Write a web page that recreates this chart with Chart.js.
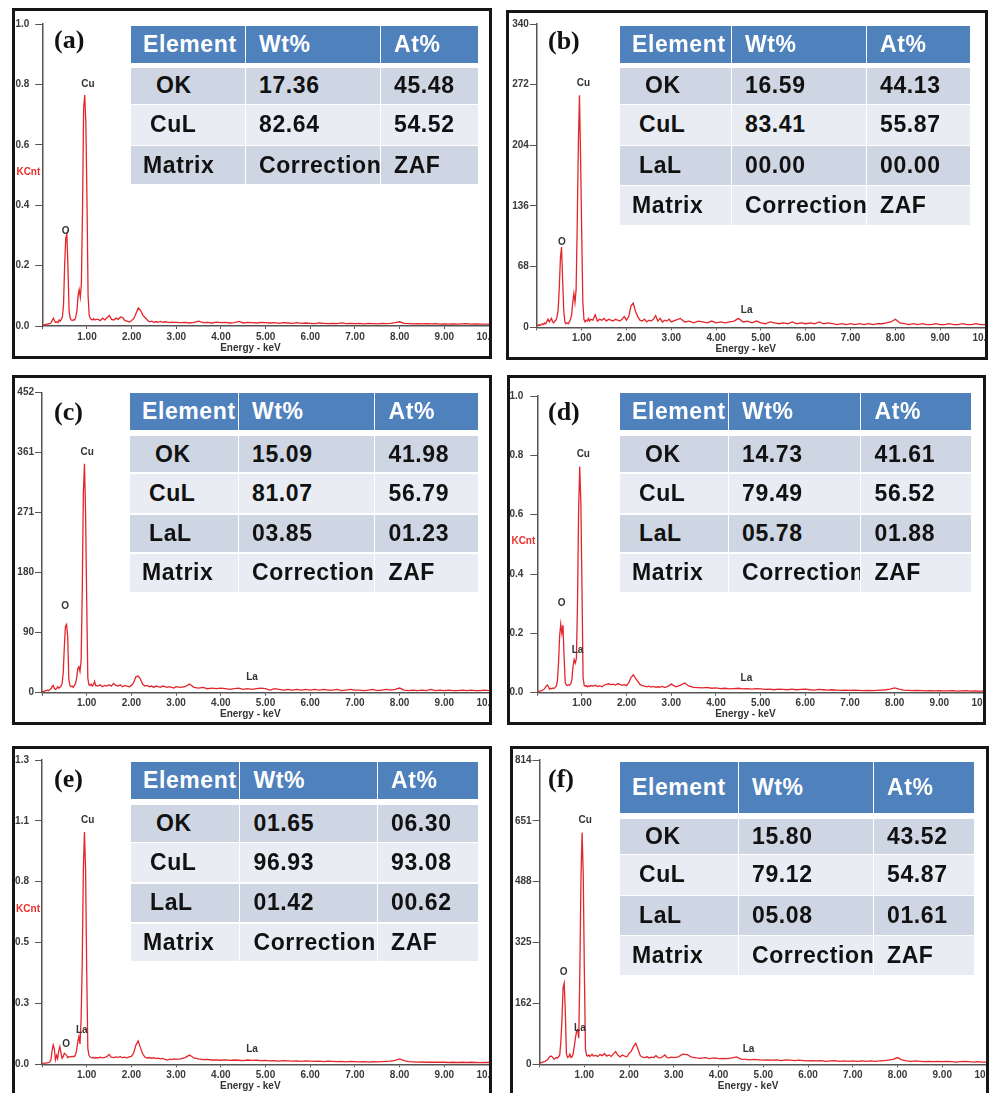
<!DOCTYPE html>
<html>
<head>
<meta charset="utf-8">
<script src="https://cdn.jsdelivr.net/npm/chart.js@4.4.0/dist/chart.umd.min.js"></script>
<style>
  body { margin: 0; width: 990px; height: 1093px; overflow: hidden; background: #fff; position: relative; }
  .frame { position: absolute; border: 3px solid #161616; box-sizing: border-box; z-index: 5; pointer-events: none; }
  canvas { position: absolute; }
  .cell { position: absolute; display: flex; align-items: center; box-sizing: border-box; font: bold 23px "Liberation Sans", Arial, sans-serif;
          letter-spacing: 0.6px; color: #111; white-space: nowrap; overflow: hidden; z-index: 3; }
  .hd { background: #4f81bd; color: #fff; }
  .dk { background: #cfd6e3; }
  .lt { background: #e9edf3; }
  .tag { position: absolute; font: bold 26px "Liberation Serif", "Times New Roman", serif; line-height: 30px; z-index: 3; color: #111; }
</style>
</head>
<body>
<script>
// EDS spectra, energy in keV

var energy = [
  0,0.025,0.05,0.075,0.1,0.125,0.15,0.175,0.2,0.225,0.25,0.275,0.3,0.325,0.35,0.375,0.4,0.425,0.45,0.475,
  0.5,0.525,0.55,0.575,0.6,0.625,0.65,0.675,0.7,0.725,0.75,0.775,0.8,0.825,0.85,0.875,0.9,0.925,0.95,0.975,
  1,1.025,1.05,1.075,1.1,1.125,1.15,1.175,1.2,
  1.25,1.3,1.35,1.4,1.45,1.5,1.55,1.6,1.65,1.7,1.75,1.8,1.85,1.9,1.95,2,2.05,2.1,2.15,2.2,2.25,2.3,2.35,2.4,2.45,2.5,2.55,2.6,2.65,2.7,2.75,2.8,2.85,2.9,2.95,3,
  3.1,3.2,3.3,3.4,3.5,3.6,3.7,3.8,3.9,4,4.1,4.2,4.3,4.4,4.5,4.6,4.7,4.8,4.9,5,
  5.1,5.2,5.3,5.4,5.5,5.6,5.7,5.8,5.9,6,6.1,6.2,6.3,6.4,6.5,6.6,6.7,6.8,6.9,7,
  7.1,7.2,7.3,7.4,7.5,7.6,7.7,7.8,7.9,8,8.1,8.2,8.3,8.4,8.5,8.6,8.7,8.8,8.9,9,
  9.1,9.2,9.3,9.4,9.5,9.6,9.7,9.8,9.9,10
];

var xTickLabels = ['', '1.00', '2.00', '3.00', '4.00', '5.00', '6.00', '7.00', '8.00', '9.00', '10.00'];
var tableHead = ['Element', 'Wt%', 'At%'];

// (a)
var specA = [
  0.003,0.004,0.004,0.005,0.006,0.006,0.008,0.008,0.012,0.02,0.026,0.016,0.012,0.014,0.011,0.02,0.016,0.022,0.03,0.07,
  0.2,0.29,0.305,0.19,0.05,0.025,0.02,0.018,0.021,0.02,0.03,0.05,0.1,0.12,0.095,0.14,0.38,0.72,0.765,0.67,
  0.42,0.1,0.035,0.025,0.022,0.02,0.024,0.02,0.022,
  0.022,0.018,0.026,0.02,0.028,0.035,0.022,0.02,0.026,0.022,0.03,0.028,0.018,0.016,0.013,0.018,0.025,0.042,0.06,0.052,
  0.036,0.028,0.02,0.014,0.016,0.012,0.014,0.013,0.015,0.012,0.014,0.013,0.011,0.013,0.012,0.012,
  0.011,0.012,0.01,0.012,0.016,0.011,0.012,0.01,0.013,0.011,0.012,0.01,0.011,0.015,0.01,0.012,0.011,0.01,0.012,0.011,
  0.01,0.011,0.009,0.011,0.01,0.009,0.011,0.009,0.01,0.009,0.008,0.01,0.009,0.008,0.009,0.008,0.01,0.008,0.009,0.008,
  0.009,0.007,0.009,0.008,0.007,0.009,0.008,0.009,0.011,0.014,0.009,0.008,0.007,0.008,0.007,0.008,0.007,0.008,0.006,0.007,
  0.006,0.007,0.006,0.007,0.008,0.006,0.007,0.006,0.006,0.006
];
var yTicksA = ['0.0', '0.2', '0.4', '0.6', '0.8', '1.0'];
var peakLabelsA = [['Cu', 1.02, 0.80], ['O', 0.52, 0.315]];
var tableA = [['OK', '17.36', '45.48'], ['CuL', '82.64', '54.52'], ['Matrix', 'Correction', 'ZAF']];

// (b)
var specB = [
  2,2,3,2,3,4,3,5,4,7,9,6,8,10,6,5,7,8,12,20,
  45,78,90,52,18,6,4,5,4,6,9,14,28,38,28,42,115,205,260,190,
  105,28,9,6,8,7,10,7,9,
  8,14,7,9,8,10,7,9,8,7,9,8,7,9,12,8,12,24,27,18,
  12,8,7,9,6,8,7,9,13,7,10,6,8,7,9,6,
  8,10,6,7,5,7,6,5,7,5,6,5,6,7,10,6,7,5,7,5,
  4,6,5,4,5,4,6,4,5,4,5,4,6,4,5,4,3,4,3,4,
  3,4,3,4,3,4,4,5,6,9,5,4,3,4,3,4,3,3,4,3,
  3,4,3,3,4,3,3,4,3,3
];
var yTicksB = ['0', '68', '136', '204', '272', '340'];
var peakLabelsB = [['Cu', 1.04, 274], ['O', 0.56, 95], ['La', 4.68, 18.6]];
var tableB = [['OK', '16.59', '44.13'], ['CuL', '83.41', '55.87'], ['LaL', '00.00', '00.00'], ['Matrix', 'Correction', 'ZAF']];

// (c)
var specC = [
  1,2,2,3,3,4,3,5,6,9,11,7,5,6,9,7,8,10,14,30,
  70,100,103,84,20,11,9,10,8,11,14,22,36,39,32,48,150,300,345,270,
  140,22,12,11,13,10,12,17,11,
  10,12,9,11,10,12,10,14,11,10,12,9,11,10,9,11,15,24,25,21,
  13,10,11,9,10,8,10,9,8,10,9,8,9,8,7,9,
  8,9,13,8,7,8,6,7,6,7,6,5,6,7,5,6,5,6,7,6,
  4,6,5,4,5,4,5,4,5,4,5,4,5,4,4,5,3,4,5,4,
  4,3,4,5,3,4,5,4,5,7,4,3,4,3,4,3,5,3,4,3,
  4,3,3,4,3,4,3,3,4,3
];
var yTicksC = ['0', '90', '180', '271', '361', '452'];
var peakLabelsC = [['Cu', 1.01, 363], ['O', 0.52, 130], ['La', 4.70, 23]];
var tableC = [['OK', '15.09', '41.98'], ['CuL', '81.07', '56.79'], ['LaL', '03.85', '01.23'], ['Matrix', 'Correction', 'ZAF']];

// (d)
var specD = [
  0.003,0.004,0.005,0.006,0.007,0.009,0.012,0.016,0.022,0.026,0.02,0.012,0.015,0.013,0.016,0.014,0.018,0.022,0.04,0.1,
  0.19,0.231,0.2,0.228,0.12,0.035,0.026,0.024,0.027,0.025,0.03,0.045,0.09,0.112,0.1,0.115,0.3,0.62,0.762,0.64,
  0.35,0.05,0.025,0.022,0.024,0.02,0.023,0.021,0.024,
  0.022,0.025,0.021,0.023,0.02,0.026,0.028,0.03,0.027,0.029,0.026,0.03,0.028,0.025,0.027,0.024,0.035,0.052,0.06,0.048,
  0.038,0.028,0.024,0.022,0.02,0.022,0.019,0.021,0.018,0.02,0.019,0.021,0.018,0.02,0.024,0.029,
  0.02,0.025,0.033,0.022,0.018,0.017,0.016,0.018,0.015,0.016,0.014,0.015,0.013,0.014,0.015,0.013,0.014,0.012,0.014,0.013,
  0.011,0.012,0.01,0.012,0.011,0.01,0.012,0.01,0.011,0.012,0.01,0.009,0.011,0.01,0.009,0.01,0.009,0.008,0.009,0.008,
  0.009,0.008,0.007,0.008,0.007,0.008,0.009,0.01,0.012,0.016,0.012,0.009,0.008,0.007,0.008,0.007,0.006,0.007,0.006,0.007,
  0.006,0.006,0.007,0.005,0.006,0.007,0.005,0.006,0.005,0.005
];
var yTicksD = ['0.0', '0.2', '0.4', '0.6', '0.8', '1.0'];
var peakLabelsD = [['Cu', 1.03, 0.803], ['O', 0.546, 0.301], ['La', 0.90, 0.142], ['La', 4.68, 0.0485]];
var tableD = [['OK', '14.73', '41.61'], ['CuL', '79.49', '56.52'], ['LaL', '05.78', '01.88'], ['Matrix', 'Correction', 'ZAF']];

// (e)
var specE = [
  0.004,0.004,0.005,0.005,0.006,0.006,0.008,0.01,0.02,0.06,0.086,0.07,0.02,0.04,0.025,0.06,0.078,0.05,0.027,0.035,
  0.049,0.045,0.04,0.03,0.034,0.032,0.035,0.033,0.036,0.034,0.042,0.064,0.1,0.123,0.09,0.2,0.45,0.86,1.03,0.862,
  0.42,0.07,0.04,0.033,0.03,0.028,0.031,0.027,0.03,
  0.028,0.032,0.029,0.031,0.034,0.044,0.032,0.03,0.033,0.031,0.034,0.03,0.032,0.029,0.033,0.035,0.05,0.085,0.104,0.075,
  0.048,0.032,0.028,0.03,0.027,0.029,0.025,0.027,0.024,0.026,0.022,0.019,0.023,0.021,0.024,0.022,
  0.024,0.03,0.041,0.028,0.024,0.021,0.022,0.019,0.02,0.018,0.02,0.017,0.019,0.018,0.016,0.019,0.017,0.018,0.016,0.017,
  0.015,0.016,0.014,0.016,0.015,0.014,0.015,0.013,0.015,0.014,0.013,0.014,0.012,0.014,0.013,0.012,0.013,0.011,0.013,0.012,
  0.011,0.012,0.01,0.012,0.011,0.012,0.013,0.014,0.017,0.024,0.016,0.012,0.011,0.01,0.011,0.009,0.01,0.009,0.01,0.009,
  0.008,0.009,0.008,0.009,0.008,0.009,0.008,0.007,0.008,0.008
];
var yTicksE = ['0.0', '0.3', '0.5', '0.8', '1.1', '1.3'];
var peakLabelsE = [['Cu', 1.02, 1.081], ['O', 0.54, 0.091], ['La', 0.89, 0.149], ['La', 4.70, 0.068]];
var tableE = [['OK', '01.65', '06.30'], ['CuL', '96.93', '93.08'], ['LaL', '01.42', '00.62'], ['Matrix', 'Correction', 'ZAF']];

// (f)
var specF = [
  3,4,5,6,7,8,10,12,16,20,22,21,17,14,16,18,17,20,25,60,
  120,205,217,140,28,18,20,27,18,20,28,47,70,87,92,70,250,500,620,511,
  252,40,24,22,25,21,24,27,22,
  24,21,26,23,29,22,25,21,28,34,24,20,25,22,20,29,35,48,56,40,
  23,19,18,20,17,19,18,23,18,17,20,25,18,17,19,18,
  20,27,26,19,17,16,18,15,17,15,16,15,17,20,14,13,12,13,12,11,
  12,11,12,10,12,11,10,11,10,9,10,9,10,8,9,10,8,9,8,9,
  8,9,8,9,8,9,10,11,13,18,12,9,8,9,8,7,8,7,8,7,
  8,7,6,7,8,7,6,7,6,6
];
var yTicksF = ['0', '162', '325', '488', '651', '814'];
var peakLabelsF = [['Cu', 1.02, 652], ['O', 0.54, 246], ['La', 0.90, 96], ['La', 4.67, 41]];
var tableF = [['OK', '15.80', '43.52'], ['CuL', '79.12', '54.87'], ['LaL', '05.08', '01.61'], ['Matrix', 'Correction', 'ZAF']];

// layout of the six panels (page pixels)
var panels = [
  { tag: '(a)', tagPos: [54, 25], frame: [12, 8, 492, 359], ca: [42.3, 24, 489, 326], yMax: 1.0, yTicks: yTicksA, yPad: 6, kcnt: true,
    spec: specA, peaks: peakLabelsA, rows: tableA,
    tbl: { cols: [[131, 244.5], [245.5, 379.5], [380.5, 478]], head: [26, 63], rows: [[68, 103.5], [105, 144.5], [146, 184]] } },
  { tag: '(b)', tagPos: [548, 26], frame: [506, 10, 988, 360], ca: [536.9, 24, 985, 327.3], yMax: 340, yTicks: yTicksB, yPad: 1, kcnt: false,
    spec: specB, peaks: peakLabelsB, rows: tableB,
    tbl: { cols: [[620, 730.5], [731.5, 865.5], [866.5, 970]], head: [26, 63], rows: [[68, 103.5], [105, 144.5], [146, 184.5], [186, 224.5]] } },
  { tag: '(c)', tagPos: [54, 397], frame: [12, 375, 492, 725], ca: [42, 392.7, 489, 692.7], yMax: 452, yTicks: yTicksC, yPad: 1, kcnt: false,
    spec: specC, peaks: peakLabelsC, rows: tableC,
    tbl: { cols: [[130, 237.5], [238.5, 374], [375, 478]], head: [393, 430], rows: [[436, 472], [474, 513], [514.5, 552], [553.5, 592]] } },
  { tag: '(d)', tagPos: [548, 397], frame: [507, 375, 986, 725], ca: [537.3, 396, 984, 692.7], yMax: 1.0, yTicks: yTicksD, yPad: 7, kcnt: true,
    spec: specD, peaks: peakLabelsD, rows: tableD,
    tbl: { cols: [[620, 727.5], [728.5, 860], [861, 971]], head: [393, 430], rows: [[436, 472], [474, 513], [514.5, 552], [553.5, 592]] } },
  { tag: '(e)', tagPos: [54, 764], frame: [12, 746, 492, 1100], ca: [42, 760, 489, 1064.3], yMax: 1.35, yTicks: yTicksE, yPad: 6, kcnt: true,
    spec: specE, peaks: peakLabelsE, rows: tableE,
    tbl: { cols: [[131, 239], [240, 376.5], [377.5, 478]], head: [762, 799], rows: [[804.5, 841.5], [843, 882], [883.5, 922], [923.5, 961]] } },
  { tag: '(f)', tagPos: [548, 764], frame: [510, 746, 989, 1100], ca: [539.6, 760, 987, 1064.3], yMax: 814, yTicks: yTicksF, yPad: 1, kcnt: false,
    spec: specF, peaks: peakLabelsF, rows: tableF,
    tbl: { cols: [[620, 737.5], [738.5, 872.5], [873.5, 974]], head: [762, 813], rows: [[818.5, 853.5], [855, 894.5], [896, 934.5], [936, 974.5]] } }
];

var FONT = '"Liberation Sans", Arial, sans-serif';
Chart.defaults.font.family = FONT;

var indent = { 'Element': 12, 'OK': 25, 'CuL': 19, 'LaL': 19, 'Matrix': 12 };

function box(cls, l, t, r, b, text, pad) {
  var d = document.createElement('div');
  d.className = cls;
  d.style.left = l + 'px';
  d.style.top = t + 'px';
  d.style.width = (r - l) + 'px';
  d.style.height = (b - t) + 'px';
  if (pad != null) d.style.paddingLeft = pad + 'px';
  if (text != null) d.textContent = text;
  document.body.appendChild(d);
  return d;
}

function drawTable(p) {
  var t = p.tbl;
  tableHead.forEach(function (h, c) {
    box('cell hd', t.cols[c][0], t.head[0], t.cols[c][1], t.head[1], h, c === 0 ? indent[h] : 13.5);
  });
  p.rows.forEach(function (row, r) {
    row.forEach(function (txt, c) {
      box('cell ' + (r % 2 ? 'lt' : 'dk'), t.cols[c][0], t.rows[r][0], t.cols[c][1], t.rows[r][1], txt, c === 0 ? indent[txt] : 13.5);
    });
  });
}

function drawPanel(p) {
  var f = p.frame, a = p.ca;
  var fw = f[2] - f[0], fh = f[3] - f[1];
  var cv = document.createElement('canvas');
  cv.width = fw; cv.height = fh;
  cv.style.left = f[0] + 'px'; cv.style.top = f[1] + 'px';
  cv.style.width = fw + 'px'; cv.style.height = fh + 'px';
  document.body.appendChild(cv);
  box('frame', f[0], f[1], f[2], f[3]);

  var yW = a[0] - f[0], padTop = a[1] - f[1], padRight = f[2] - a[2], xH = f[3] - a[3];

  new Chart(cv, {
    type: 'line',
    data: {
      datasets: [{
        data: energy.map(function (e, i) { return { x: e, y: p.spec[i] }; }),
        borderColor: '#e3262b',
        borderWidth: 1.3,
        pointRadius: 0,
        tension: 0,
        fill: false
      }]
    },
    options: {
      responsive: false,
      animation: false,
      devicePixelRatio: 1,
      layout: { padding: { top: padTop, right: padRight, left: 0, bottom: 0 } },
      plugins: { legend: { display: false }, tooltip: { enabled: false } },
      scales: {
        x: {
          type: 'linear', min: 0, max: 10,
          afterFit: function (s) { s.height = xH; s.paddingLeft = 0; s.paddingRight = 0; },
          afterBuildTicks: function (s) { s.ticks = xTickLabels.map(function (t, i) { return { value: i }; }); },
          ticks: { autoSkip: false, maxRotation: 0, padding: 2, color: '#3a3a3a',
                   font: { size: 10, weight: 'bold' },
                   callback: function (v, i) { return xTickLabels[i]; } },
          grid: { display: true, drawOnChartArea: false, drawTicks: true, tickLength: 3, color: '#555' },
          border: { display: true, color: '#555', width: 1.5 }
        },
        y: {
          min: 0, max: p.yMax,
          afterFit: function (s) { s.width = yW; s.paddingTop = 0; s.paddingBottom = 0; },
          afterBuildTicks: function (s) {
            s.ticks = p.yTicks.map(function (t, i) { return { value: p.yMax * i / (p.yTicks.length - 1) }; });
          },
          ticks: { padding: p.yPad, color: '#3a3a3a', font: { size: 10, weight: 'bold' },
                   callback: function (v, i) { return p.yTicks[i]; } },
          grid: { display: true, drawOnChartArea: false, drawTicks: true, tickLength: 7, color: '#555' },
          border: { display: true, color: '#555', width: 1.5 }
        }
      }
    },
    plugins: [{
      id: 'marks',
      afterDatasetsDraw: function (chart) {
        var ctx = chart.ctx, ar = chart.chartArea, sx = chart.scales.x, sy = chart.scales.y;
        ctx.save();
        ctx.font = 'bold 10px ' + FONT;
        ctx.fillStyle = '#333';
        ctx.textAlign = 'center';
        ctx.textBaseline = 'middle';
        p.peaks.forEach(function (pk) {
          ctx.fillText(pk[0], sx.getPixelForValue(pk[1]), sy.getPixelForValue(pk[2]));
        });
        ctx.fillText('Energy - keV', sx.getPixelForValue(4.66), ar.bottom + 22);
        if (p.kcnt) {
          ctx.fillStyle = '#e6302c';
          ctx.textAlign = 'right';
          ctx.fillText('KCnt', ar.left - 2, ar.top + (ar.bottom - ar.top) * 0.49);
        }
        ctx.restore();
      }
    }]
  });

  drawTable(p);
  var tg = document.createElement('div');
  tg.className = 'tag';
  tg.style.left = p.tagPos[0] + 'px';
  tg.style.top = p.tagPos[1] + 'px';
  tg.textContent = p.tag;
  document.body.appendChild(tg);
}

panels.forEach(drawPanel);
</script>
</body>
</html>
